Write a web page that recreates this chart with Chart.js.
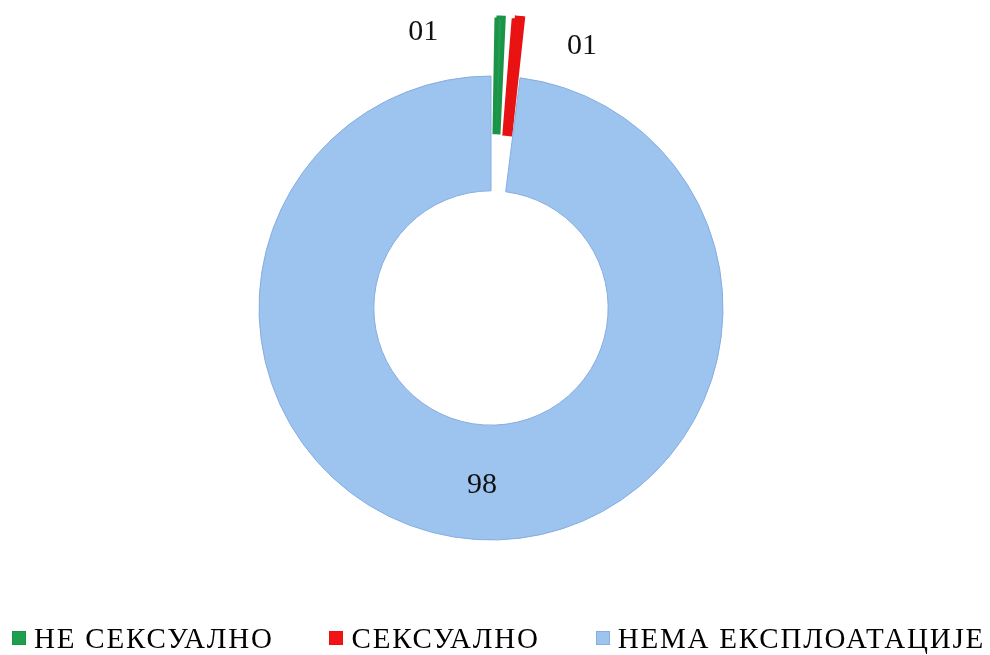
<!DOCTYPE html>
<html>
<head>
<meta charset="utf-8">
<script src="https://cdn.jsdelivr.net/npm/chart.js@4.4.1/dist/chart.umd.min.js"></script>
<style>
  html, body { margin: 0; padding: 0; background: #ffffff; overflow: hidden; }
  #wrap { position: relative; width: 990px; height: 655px; }
  #chart { position: absolute; left: 0; top: 0; }
  #legend {
    position: absolute; left: 12px; top: 621px; width: 973px; height: 34px;
    display: flex; justify-content: space-between; align-items: center;
    font-family: "Liberation Serif", "Times New Roman", serif; font-size: 29px; color: #000;
    letter-spacing: 1.8px;
    line-height: 34px; white-space: nowrap;
  }
  .item { display: flex; align-items: center; }
  .box { width: 14px; height: 14px; margin-right: 8px; box-sizing: border-box; }
</style>
</head>
<body>
<div id="wrap">
  <canvas id="chart" width="990" height="655"></canvas>
  <div id="legend"></div>
</div>
<script>
// ---- data ----
const categories = ["НЕ СЕКСУАЛНО", "СЕКСУАЛНО", "НЕМА ЕКСПЛОАТАЦИЈЕ"];
const values = [1, 1, 98];
const sliceColors = ["#1f9e4e", "#f01414", "#9dc3ef"];
const sliceBorders = ["#1c9448", "#e81212", "#86ade0"];
const sliceBorderWidths = [4, 6, 1];
const explode = [121, 121, 0];

// label placement: angle shift (deg, relative to slice mid) and radius; null -> ring middle
const labelAngleShift = [-15.6, 13.8, 0];
const labelRadius = [284, 277, null];

const valueLabels = {
  id: 'valueLabels',
  afterDatasetsDraw(chart) {
    const ctx = chart.ctx;
    const meta = chart.getDatasetMeta(0);
    ctx.save();
    ctx.font = '30px "Liberation Serif", "Times New Roman", serif';
    ctx.fillStyle = '#111';
    ctx.textAlign = 'center';
    ctx.textBaseline = 'middle';
    meta.data.forEach((arc, i) => {
      const txt = String(values[i]).padStart(2, '0');
      let x, y;
      if (labelRadius[i] === null) {
        const p = arc.tooltipPosition();
        x = p.x + 2; y = p.y + 3;
      } else {
        const mid = (arc.startAngle + arc.endAngle) / 2 + labelAngleShift[i] * Math.PI / 180;
        x = arc.x + Math.cos(mid) * labelRadius[i];
        y = arc.y + Math.sin(mid) * labelRadius[i];
      }
      ctx.fillText(txt, x, y);
    });
    ctx.restore();
  }
};

new Chart(document.getElementById('chart'), {
  type: 'doughnut',
  data: {
    labels: categories,
    datasets: [{
      data: values,
      backgroundColor: sliceColors,
      borderColor: sliceBorders,
      borderWidth: sliceBorderWidths,
      borderJoinStyle: 'miter',
      offset: explode,
      clip: false
    }]
  },
  options: {
    responsive: false,
    animation: false,
    radius: 232,
    cutout: '50.5%',
    layout: { padding: { left: 0, right: 8, top: 0, bottom: 39 } },
    plugins: {
      legend: { display: false },
      tooltip: { enabled: false }
    }
  },
  plugins: [valueLabels]
});

// HTML legend built from the same arrays
const legend = document.getElementById('legend');
categories.forEach((c, i) => {
  const item = document.createElement('div');
  item.className = 'item';
  const box = document.createElement('span');
  box.className = 'box';
  box.style.background = sliceColors[i];
  box.style.border = '1px solid ' + sliceBorders[i];
  const t = document.createElement('span');
  t.textContent = c;
  item.appendChild(box);
  item.appendChild(t);
  legend.appendChild(item);
});
</script>
</body>
</html>
